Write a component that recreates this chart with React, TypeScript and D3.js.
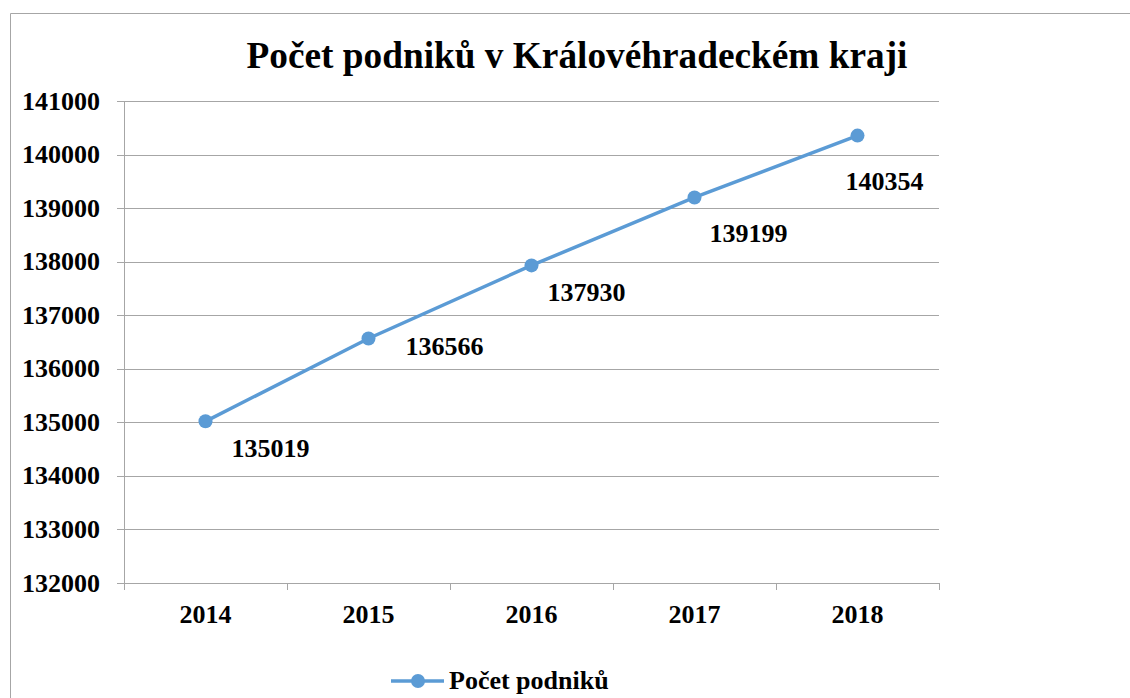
import * as d3 from "d3";
import { useEffect, useRef } from "react";

// data
const years = ["2014", "2015", "2016", "2017", "2018"];
const podniky = [135019, 136566, 137930, 139199, 140354];
const yTicks = [132000, 133000, 134000, 135000, 136000, 137000, 138000, 139000, 140000, 141000];
const seriesName = "Počet podniků";
const title = "Počet podniků v Královéhradeckém kraji";

// label offsets (manually placed in the original)
const labelDx = [65, 76, 55, 54, 27];
const labelDy = [36, 17, 36, 45, 54];

export default function App() {
    const ref = useRef<SVGSVGElement>(null);

    useEffect(() => {
        const svg = d3.select(ref.current);
        svg.selectAll("*").remove();

        const W = 1130, H = 698;
        const left = 124, right = 939, top = 101, bottom = 583;
        const font = "'Liberation Serif', 'Times New Roman', serif";
        const blue = "#5b9bd5";
        const grid = "#a6a6a6";

        // frame
        svg.append("path")
            .attr("d", `M10.5,${H} V13.5 H${W}`)
            .attr("fill", "none")
            .attr("stroke", grid)
            .attr("stroke-width", 1);

        const x = d3.scaleBand().domain(years).range([left, right]);
        const y = d3.scaleLinear().domain([132000, 141000]).range([bottom, top]);

        // title
        svg.append("text")
            .attr("x", 577)
            .attr("y", 68)
            .attr("text-anchor", "middle")
            .attr("font-family", font)
            .attr("font-weight", "bold")
            .attr("font-size", 37.3)
            .text(title);

        // gridlines + y ticks
        svg.append("g")
            .selectAll("line")
            .data(yTicks)
            .enter().append("line")
            .attr("x1", left - 7)
            .attr("x2", right)
            .attr("y1", (d) => Math.round(y(d)) + 0.5)
            .attr("y2", (d) => Math.round(y(d)) + 0.5)
            .attr("stroke", grid)
            .attr("stroke-width", 1);

        svg.append("g")
            .selectAll("text")
            .data(yTicks)
            .enter().append("text")
            .attr("x", 100)
            .attr("y", (d) => y(d))
            .attr("dy", "0.33em")
            .attr("text-anchor", "end")
            .attr("font-family", font)
            .attr("font-weight", "bold")
            .attr("font-size", 26)
            .text((d) => String(d));

        // y axis line
        svg.append("line")
            .attr("x1", left + 0.5).attr("x2", left + 0.5)
            .attr("y1", top).attr("y2", bottom + 7)
            .attr("stroke", grid);

        // x ticks
        const bounds = years.map((d) => x(d) as number).concat([right]);
        svg.append("g")
            .selectAll("line")
            .data(bounds)
            .enter().append("line")
            .attr("x1", (d) => Math.round(d) + 0.5)
            .attr("x2", (d) => Math.round(d) + 0.5)
            .attr("y1", bottom)
            .attr("y2", bottom + 7)
            .attr("stroke", grid);

        svg.append("g")
            .selectAll("text")
            .data(years)
            .enter().append("text")
            .attr("x", (d) => (x(d) as number) + x.bandwidth() / 2)
            .attr("y", 623)
            .attr("text-anchor", "middle")
            .attr("font-family", font)
            .attr("font-weight", "bold")
            .attr("font-size", 26)
            .text((d) => d);

        // line
        const cx = (i: number) => (x(years[i]) as number) + x.bandwidth() / 2;
        svg.append("path")
            .datum(podniky)
            .attr("fill", "none")
            .attr("stroke", blue)
            .attr("stroke-width", 3.5)
            .attr("d", d3.line<number>()
                .x((d, i) => cx(i))
                .y((d) => y(d)));

        svg.append("g")
            .selectAll("circle")
            .data(podniky)
            .enter().append("circle")
            .attr("cx", (d, i) => cx(i))
            .attr("cy", (d) => y(d))
            .attr("r", 7)
            .attr("fill", blue);

        // data labels
        svg.append("g")
            .selectAll("text")
            .data(podniky)
            .enter().append("text")
            .attr("x", (d, i) => cx(i) + labelDx[i])
            .attr("y", (d, i) => y(d) + labelDy[i])
            .attr("text-anchor", "middle")
            .attr("font-family", font)
            .attr("font-weight", "bold")
            .attr("font-size", 26)
            .text((d) => String(d));

        // legend
        const lg = svg.append("g").attr("transform", "translate(391, 681)");
        lg.append("line")
            .attr("x1", 0).attr("x2", 53)
            .attr("y1", 0).attr("y2", 0)
            .attr("stroke", blue)
            .attr("stroke-width", 3.5);
        lg.append("circle")
            .attr("cx", 27).attr("cy", 0).attr("r", 7)
            .attr("fill", blue);
        lg.append("text")
            .attr("x", 58)
            .attr("y", 8)
            .attr("font-family", font)
            .attr("font-weight", "bold")
            .attr("font-size", 26)
            .text(seriesName);
    }, []);

    return (
        <div style={{ position: "absolute", left: 0, top: 0 }}>
            <svg ref={ref} width={1130} height={698} style={{ display: "block", background: "#fff" }}></svg>
        </div>
    );
}
